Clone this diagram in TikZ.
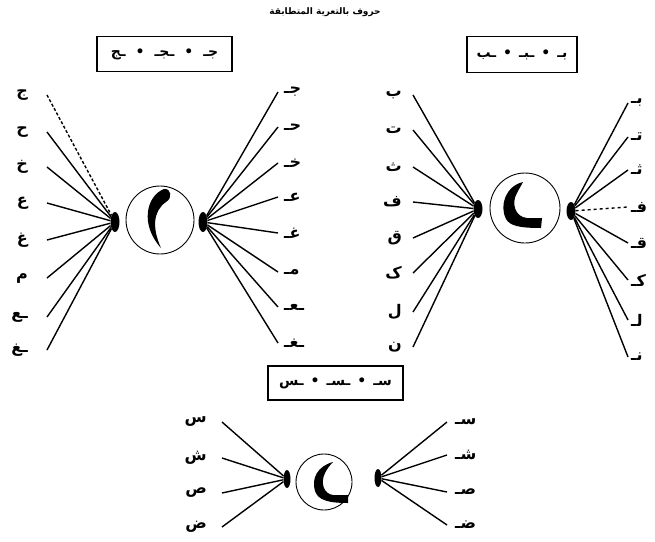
\documentclass[tikz,border=0pt]{standalone}
\usepackage{fontspec}
\newfontfamily\arabicfont[Script=Arabic]{DejaVu Sans}
\TeXXeTstate=1
\usetikzlibrary{positioning,shapes.geometric}
\newcommand\artxt[1]{{\arabicfont\beginR #1\endR}}
\tikzset{
  letter/.style={font=\fontsize{16}{18}\selectfont\bfseries, inner sep=2pt},
  ray/.style={line width=1.4pt},
  blob/.style={ellipse, fill=black, inner sep=0pt, minimum width=9pt, minimum height=20pt},
  ring/.style={circle, draw, line width=0.9pt, inner sep=0pt},
  frame/.style={draw, line width=1.6pt, font=\fontsize{14}{16}\selectfont\bfseries, inner sep=0pt},
}
\begin{document}
\begin{tikzpicture}[x=1pt,y=-1pt]
\useasboundingbox (0,0) rectangle (655,541);

% title
\node[font=\fontsize{9}{11}\selectfont\bfseries] (title) at (325,12) {\artxt{حروف بالتعرية المتطابقة}};

% boxes
\node[frame, minimum width=135pt, minimum height=35pt] (boxA) at (164.5,54)
  {\artxt{جـ\hspace{10pt}•\hspace{10pt}ـجـ\hspace{10pt}•\hspace{10pt}ـج}};
\node[frame, minimum width=110pt, minimum height=36pt] (boxB) at (522,54.5)
  {\artxt{بـ\hspace{7pt}•\hspace{7pt}ـبـ\hspace{7pt}•\hspace{7pt}ـب}};
\node[frame, minimum width=135pt, minimum height=34pt] (boxC) at (335.5,383)
  {\artxt{سـ\hspace{7pt}•\hspace{7pt}ـسـ\hspace{7pt}•\hspace{7pt}ـس}};

% group A
\node[ring, minimum size=68pt] (cA) at (160,220) {};
\node[blob] (aL) at (115,222) {};
\node[blob] (aR) at (203,222) {};
\fill (164,189) .. controls (146,196) and (140,225) .. (161,248)
  .. controls (152,228) and (153,211) .. (166,202)
  .. controls (173,198) and (171,188) .. (164,189) -- cycle;
\foreach \y/\t/\s [count=\i] in {95/ج/densely dashed,132/ح/solid,167/خ/solid,203/ع/solid,240/غ/solid,278/م/solid,317/ـع/solid,350/ـغ/solid}{
  \coordinate (al\i) at (47,\y);
  \node[letter, left=17pt of al\i] (tal\i) {\artxt{\t}};
  \draw[ray,\s] (al\i) -- (aL);
}
\foreach \y/\t [count=\i] in {92/جـ,127/حـ,163/خـ,197/عـ,233/غـ,272/مـ,307/ـعـ,343/ـغـ}{
  \coordinate (ar\i) at (278,\y);
  \node[letter, right=4pt of ar\i] (tar\i) {\artxt{\t}};
  \draw[ray] (aR) -- (ar\i);
}

% group B
\node[ring, minimum size=70pt] (cB) at (525,208) {};
\node[blob, minimum height=18pt] (bL) at (478,209) {};
\node[blob, minimum height=18pt] (bR) at (571,211) {};
\fill (523,182) .. controls (506,186) and (499,205) .. (506,219)
  .. controls (510,226) and (520,228) .. (541,228) -- (542,218) -- (527,218)
  .. controls (515,217) and (511,203) .. (517,193)
  .. controls (519,189) and (521,186) .. (523,182) -- cycle;
\foreach \y/\t [count=\i] in {95/ب,130/ت,167/ث,202/ف,238/ق,273/ک,312/ل,347/ن}{
  \coordinate (bl\i) at (413,\y);
  \node[letter, left=9pt of bl\i] (tbl\i) {\artxt{\t}};
  \draw[ray] (bl\i) -- (bL);
}
\foreach \y/\t/\s [count=\i] in {103/بـ/solid,137/تـ/solid,170/ثـ/solid,207/فـ/dashed,243/قـ/solid,280/کـ/solid,320/لـ/solid,357/نـ/solid}{
  \coordinate (br\i) at (628,\y);
  \node[letter, right=1pt of br\i] (tbr\i) {\artxt{\t}};
  \draw[ray,\s] (bR) -- (br\i);
}

% group C
\node[ring, minimum size=56pt] (cC) at (324,482) {};
\node[blob, minimum width=7pt, minimum height=18pt] (cL) at (287,479) {};
\node[blob, minimum width=7pt, minimum height=18pt] (cR) at (378,478) {};
\fill (333,462) .. controls (318,466) and (311,478) .. (315,491)
  .. controls (318,500) and (328,503) .. (348,503) -- (348,495) -- (333,495)
  .. controls (324,494) and (320,483) .. (325,473)
  .. controls (327,469) and (330,465) .. (333,462) -- cycle;
\foreach \y/\t [count=\i] in {422/س,458/ش,493/ص,527/ض}{
  \coordinate (cl\i) at (222,\y);
  \node[letter, left=13pt of cl\i] (tcl\i) {\artxt{\t}};
  \draw[ray] (cl\i) -- (cL);
}
\foreach \y/\t [count=\i] in {422/سـ,455/شـ,492/صـ,525/ضـ}{
  \coordinate (cr\i) at (447,\y);
  \node[letter, right=6pt of cr\i] (tcr\i) {\artxt{\t}};
  \draw[ray] (cR) -- (cr\i);
}
\end{tikzpicture}
\end{document}
